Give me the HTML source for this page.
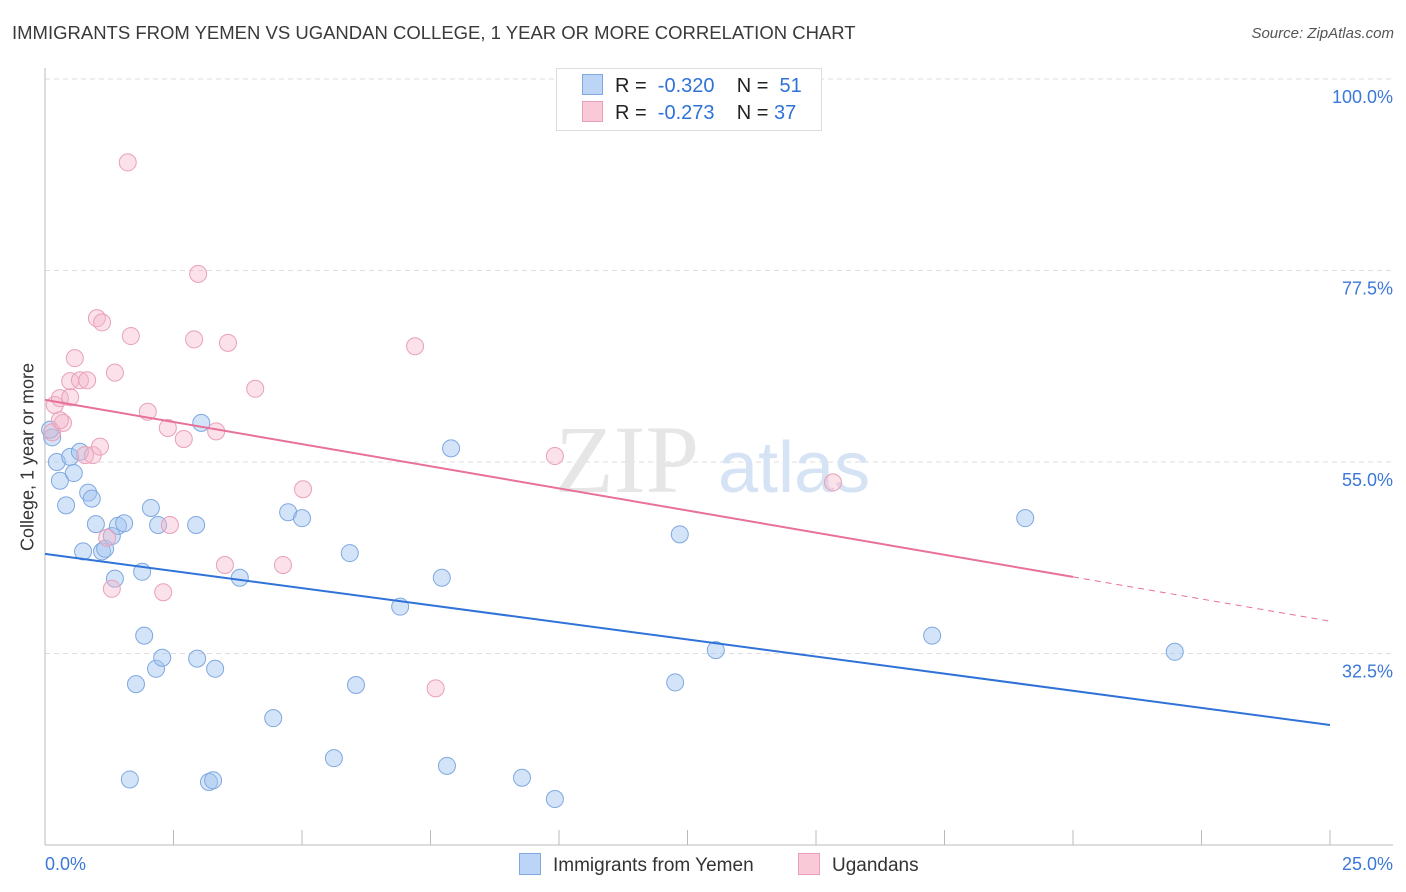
<!DOCTYPE html>
<html><head><meta charset="utf-8"><style>
body{margin:0;background:#fff;font-family:"Liberation Sans",sans-serif;}
#wrap{position:relative;width:1406px;height:892px;overflow:hidden;}
.t{position:absolute;white-space:nowrap;}
</style></head><body>
<div id="wrap">
<div class="t" style="left:12px;top:22px;font-size:18.5px;color:#3a3a3a;">IMMIGRANTS FROM YEMEN VS UGANDAN COLLEGE, 1 YEAR OR MORE CORRELATION CHART</div>
<div class="t" style="right:12px;top:25px;font-size:15px;color:#555;font-style:italic;">Source: ZipAtlas.com</div>
<svg id="svg" width="1406" height="892" style="position:absolute;left:0;top:0"></svg>
<div class="t" style="left:28px;top:457px;font-size:18px;color:#333;transform:translate(-50%,-50%) rotate(-90deg);">College, 1 year or more</div>
<div class="t" style="left:556px;top:68px;width:264px;height:61px;border:1px solid #ddd;background:#fff;"></div>
<div class="t" style="left:582px;top:74px;font-size:20px;color:#222;"><span style="display:inline-block;width:19px;height:19px;background:#bcd4f5;border:1px solid #7fa8e0;vertical-align:-3px;margin-right:12px"></span>R = &nbsp;<span style="color:#2f72d8">-0.320</span>&nbsp;&nbsp;&nbsp; N = &nbsp;<span style="color:#2f72d8">51</span></div>
<div class="t" style="left:582px;top:101px;font-size:20px;color:#222;"><span style="display:inline-block;width:19px;height:19px;background:#f9c9d8;border:1px solid #eaa0b8;vertical-align:-3px;margin-right:12px"></span>R = &nbsp;<span style="color:#2f72d8">-0.273</span>&nbsp;&nbsp;&nbsp; N = <span style="color:#2f72d8">37</span></div>
<div class="t" style="left:519px;top:853px;font-size:19px;color:#333;"><span style="display:inline-block;width:20px;height:20px;background:#bcd4f5;border:1px solid #7fa8e0;vertical-align:-4px;margin-right:12px"></span>Immigrants from Yemen</div>
<div class="t" style="left:798px;top:853px;font-size:19px;color:#333;"><span style="display:inline-block;width:20px;height:20px;background:#f9c9d8;border:1px solid #eaa0b8;vertical-align:-4px;margin-right:12px"></span>Ugandans</div>
</div>
<script>
const blueX=[0.14,0.23,0.29,0.41,0.49,0.56,0.68,0.74,0.84,0.91,0.99,1.11,1.17,1.30,1.36,1.42,1.54,1.65,1.77,1.89,1.93,2.06,2.16,2.20,2.28,2.96,2.94,3.04,3.19,3.27,3.31,3.79,4.44,4.73,5.00,5.62,5.93,6.05,6.91,7.72,7.82,7.90,9.28,9.92,12.26,12.35,13.05,17.26,19.07,21.98,0.10];
const blueY=[57.9,55.0,52.8,49.9,55.6,53.7,56.2,44.5,51.4,50.7,47.7,44.5,44.8,46.3,41.3,47.5,47.8,17.7,28.9,42.1,34.6,49.6,30.7,47.6,32.0,31.9,47.6,59.6,17.4,17.6,30.7,41.4,24.9,49.1,48.4,20.2,44.3,28.8,38.0,41.4,19.3,56.6,17.9,15.4,29.1,46.5,32.9,34.6,48.4,32.7,58.8];
const pinkX=[0.14,0.19,0.29,0.35,0.49,0.58,0.49,0.68,0.82,0.78,0.93,1.01,1.07,1.11,1.21,1.30,1.36,1.61,1.67,2.00,2.30,2.39,2.43,2.70,2.90,2.98,3.33,3.50,3.56,4.09,4.63,5.02,7.20,7.60,9.92,15.33,0.29];
const pinkY=[58.5,61.7,62.5,59.6,62.6,67.2,64.5,64.6,64.6,55.8,55.8,71.9,56.8,71.4,46.1,40.1,65.5,90.2,69.8,60.9,39.7,59.0,47.6,57.7,69.4,77.1,58.6,42.9,69.0,63.6,42.9,51.8,68.6,28.4,55.7,52.6,59.9];
const yTicks=[100,77.5,55,32.5];
const yTickLabels=["100.0%","77.5%","55.0%","32.5%"];
const blueTrend=[44.2,24.1];
const pinkTrend=[62.3,36.3];
const pinkSolidEnd=20;
const X=v=>45+v/25*1285;
const Y=v=>79+(100-v)*8.511;
const svg=document.getElementById('svg');
const NS='http://www.w3.org/2000/svg';
function mk(tag,attrs,name){const e=document.createElementNS(NS,tag);for(const k in attrs)e.setAttribute(k,attrs[k]);


svg.appendChild(e);return e;}
yTicks.forEach((t,i)=>{
mk('line',{x1:45,x2:1393,y1:Y(t),y2:Y(t),stroke:'#ddd','stroke-dasharray':'5,4'},'gridline');
const tx=mk('text',{x:1393,y:Y(t)+24,'text-anchor':'end','font-size':18,fill:'#3b78d8','font-family':'Liberation Sans'},'y-tick-label');tx.textContent=yTickLabels[i];
});
mk('line',{x1:45,x2:45,y1:68,y2:845,stroke:'#bbb'},'y-axis');
mk('line',{x1:45,x2:1393,y1:845,y2:845,stroke:'#bbb'},'x-axis');
for(let i=1;i<=10;i++)mk('line',{x1:X(i*2.5),x2:X(i*2.5),y1:830,y2:845,stroke:'#bbb'},'x-tick');
let a=mk('text',{x:45,y:870,'font-size':18,fill:'#3b78d8','font-family':'Liberation Sans'},'x-tick-label');a.textContent='0.0%';
a=mk('text',{x:1393,y:870,'text-anchor':'end','font-size':18,fill:'#3b78d8','font-family':'Liberation Sans'},'x-tick-label');a.textContent='25.0%';
a=mk('text',{x:555,y:492,'font-size':96,fill:'#e6e6e6','font-family':'Liberation Serif'},'watermark-zip');a.textContent='ZIP';
a=mk('text',{x:718,y:492,'font-size':72,fill:'#d5e3f5','font-family':'Liberation Sans'},'watermark-atlas');a.textContent='atlas';
blueX.forEach((x,i)=>mk('circle',{cx:X(x),cy:Y(blueY[i]),r:8.5,fill:'rgba(160,195,240,0.45)',stroke:'#7fa8e0','stroke-width':1},'blue-point'));
pinkX.forEach((x,i)=>mk('circle',{cx:X(x),cy:Y(pinkY[i]),r:8.5,fill:'rgba(245,180,200,0.4)',stroke:'#eaa0b8','stroke-width':1},'pink-point'));
mk('line',{x1:X(0),y1:Y(blueTrend[0]),x2:X(25),y2:Y(blueTrend[1]),stroke:'#2f72d8','stroke-width':2},'blue-trendline');
const py=x=>pinkTrend[0]+(pinkTrend[1]-pinkTrend[0])*x/25;
mk('line',{x1:X(0),y1:Y(py(0)),x2:X(pinkSolidEnd),y2:Y(py(pinkSolidEnd)),stroke:'#e8709a','stroke-width':2},'pink-trendline');
mk('line',{x1:X(pinkSolidEnd),y1:Y(py(pinkSolidEnd)),x2:X(25),y2:Y(py(25)),stroke:'#e8709a','stroke-width':1,'stroke-dasharray':'6,5'},'pink-trendline-extension');
</script>
</body></html>
